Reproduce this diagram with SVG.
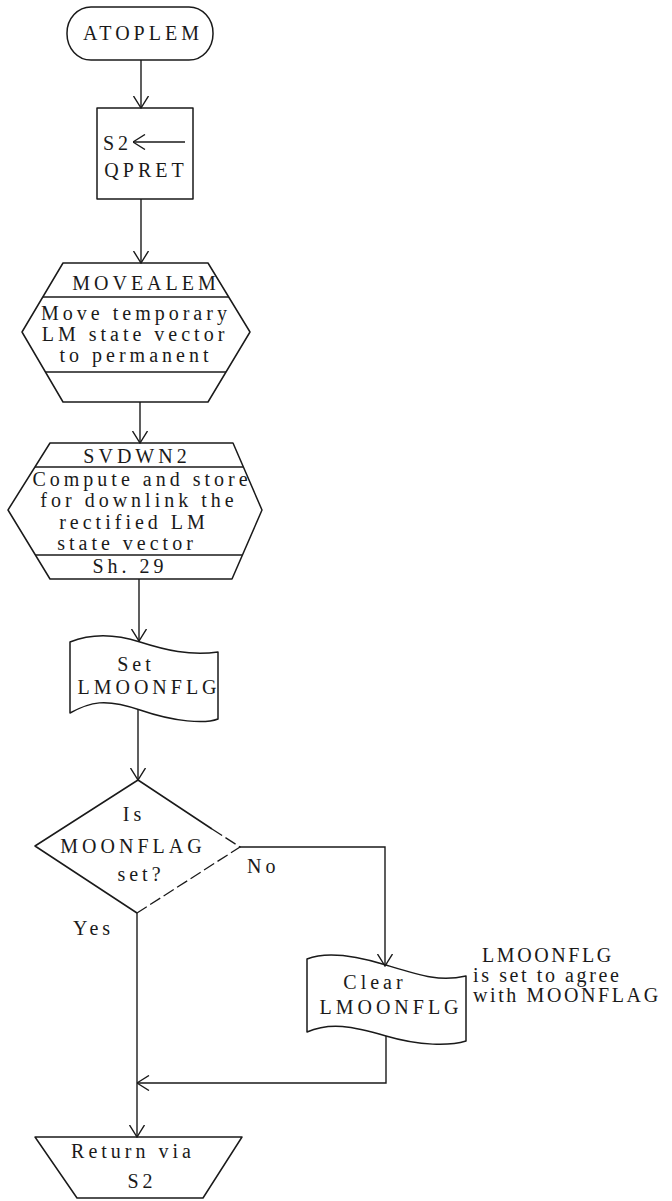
<svg xmlns="http://www.w3.org/2000/svg" width="672" height="1201" viewBox="0 0 672 1201">
  <defs>
    <marker id="arrow" viewBox="0 0 13 16" refX="12.5" refY="8" markerWidth="13" markerHeight="16" markerUnits="userSpaceOnUse" orient="auto">
      <path d="M0.5,0.5 L12.5,8 L0.5,15.5" fill="none" stroke="#1a1a1a" stroke-width="1.4"/>
    </marker>
    <style>
      .shape { fill: none; stroke: #1a1a1a; stroke-width: 1.5; stroke-linejoin: round; }
      .dash { fill: none; stroke: #1a1a1a; stroke-width: 1.3; stroke-dasharray: 12 4; }
      .wire { fill: none; stroke: #1a1a1a; stroke-width: 1.4; }
      text { font-family: "Liberation Serif", "Times New Roman", serif; font-size: 20px; letter-spacing: 4px; fill: #1a1a1a; }
      .c { text-anchor: middle; }
      .note { letter-spacing: 2.6px; }
    </style>
  </defs>
  <rect width="672" height="1201" fill="#ffffff"/>

  <!-- entry terminal -->
  <g id="atoplem">
    <rect class="shape" x="67" y="7" width="146" height="53" rx="24" ry="26"/>
    <text class="c" x="143" y="40">ATOPLEM</text>
  </g>

  <!-- save return address -->
  <g id="save-s2">
    <rect class="shape" x="97" y="108" width="96" height="91"/>
    <text x="103" y="150">S2</text>
    <line class="wire" x1="185" y1="142" x2="133" y2="142" marker-end="url(#arrow)"/>
    <text class="c" x="146" y="177">QPRET</text>
  </g>

  <!-- MOVEALEM subroutine -->
  <g id="movealem">
    <path class="shape" d="M63,263 L208,263 L250,332 L208,402 L63,402 L22,332 Z"/>
    <line class="shape" x1="43" y1="297" x2="229" y2="297"/>
    <line class="shape" x1="45" y1="372" x2="226" y2="372"/>
    <text class="c" x="146" y="290">MOVEALEM</text>
    <text class="c" x="136" y="320">Move temporary</text>
    <text class="c" x="135" y="341">LM state vector</text>
    <text class="c" x="136" y="362">to permanent</text>
  </g>

  <!-- SVDWN2 subroutine -->
  <g id="svdwn2">
    <path class="shape" d="M50,443 L233,443 L262,510 L232,579 L50,579 L8,510 Z"/>
    <line class="shape" x1="35" y1="467" x2="243" y2="467"/>
    <line class="shape" x1="35" y1="555" x2="242" y2="555"/>
    <text class="c" x="137" y="463">SVDWN2</text>
    <text class="c" x="142" y="486">Compute and store</text>
    <text class="c" x="139" y="507">for downlink the</text>
    <text class="c" x="134" y="529">rectified LM</text>
    <text class="c" x="127" y="550">state vector</text>
    <text class="c" x="130" y="573">Sh. 29</text>
  </g>

  <!-- set LMOONFLG -->
  <g id="set-lmoonflg">
    <path class="shape" d="M70,642 C90,634 115,634 140,642 S190,656 218,652 L218,719 C205,724 175,722 140,710 S90,702 70,713 Z"/>
    <text class="c" x="136" y="671">Set</text>
    <text class="c" x="149" y="694">LMOONFLG</text>
  </g>

  <!-- MOONFLAG test -->
  <g id="moonflag-test">
    <path class="shape" d="M212,829 L138,780 L35,846 L137,913"/>
    <path class="dash" d="M212,829 L240,847 L137,913"/>
    <text class="c" x="134" y="821">Is</text>
    <text class="c" x="133" y="853">MOONFLAG</text>
    <text class="c" x="141" y="881">set?</text>
  </g>

  <!-- clear LMOONFLG -->
  <g id="clear-lmoonflg">
    <path class="shape" d="M307,959 C325,952 350,954 386,965 S440,982 466,976 L466,1041 C450,1046 420,1046 386,1036 S330,1022 307,1032 Z"/>
    <text class="c" x="375" y="989">Clear</text>
    <text class="c" x="391" y="1014">LMOONFLG</text>
  </g>

  <!-- note beside the clear box -->
  <g id="note">
    <text class="note" x="482" y="962">LMOONFLG</text>
    <text class="note" x="473" y="982">is set to agree</text>
    <text class="note" x="473" y="1002">with MOONFLAG</text>
  </g>

  <!-- exit -->
  <g id="return">
    <path class="shape" d="M35,1137 L242,1137 L203,1198 L77,1198 Z"/>
    <text class="c" x="133" y="1158">Return via</text>
    <text class="c" x="142" y="1188">S2</text>
  </g>

  <!-- connectors -->
  <g id="connectors">
    <line class="wire" x1="141" y1="60" x2="141" y2="108" marker-end="url(#arrow)"/>
    <line class="wire" x1="141" y1="199" x2="141" y2="263" marker-end="url(#arrow)"/>
    <line class="wire" x1="140" y1="402" x2="140" y2="443" marker-end="url(#arrow)"/>
    <line class="wire" x1="139" y1="579" x2="139" y2="641" marker-end="url(#arrow)"/>
    <line class="wire" x1="138" y1="710" x2="138" y2="780" marker-end="url(#arrow)"/>
    <polyline class="wire" points="240,847 385,847 385,966" marker-end="url(#arrow)"/>
    <line class="wire" x1="137" y1="913" x2="137" y2="1137" marker-end="url(#arrow)"/>
    <polyline class="wire" points="386,1036 386,1083 137,1083" marker-end="url(#arrow)"/>
    <text x="247" y="873">No</text>
    <text x="73" y="935">Yes</text>
  </g>
</svg>
